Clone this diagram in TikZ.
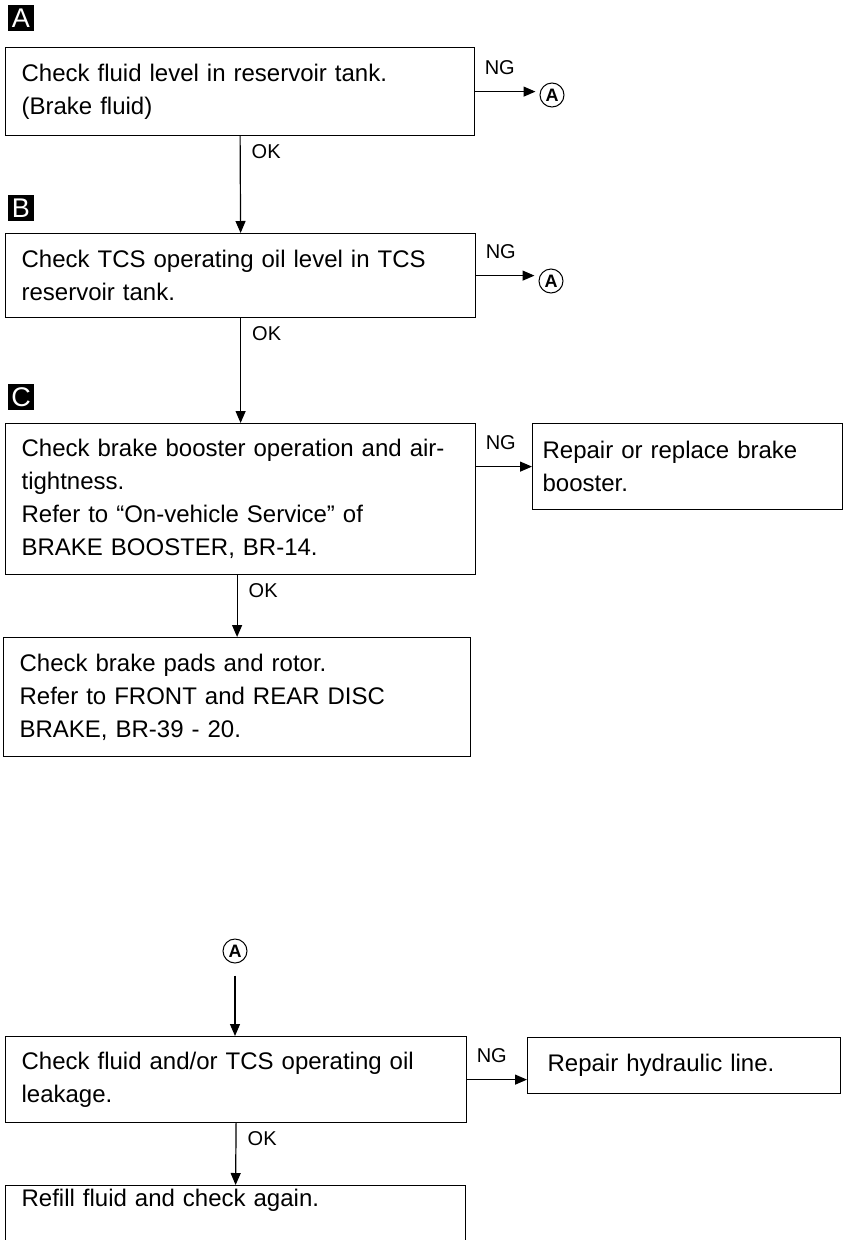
\documentclass[tikz,border=0pt]{standalone}
\usepackage{fontspec}
\setmainfont{Liberation Sans}
\usetikzlibrary{arrows.meta}

\begin{document}
\begin{tikzpicture}[x=1pt, y=-1pt,
  checkbox/.style  = {draw, line width=1.2pt, anchor=north west, inner xsep=16pt,
                      align=left, font=\fontsize{24}{33}\selectfont},
  repairbox/.style = {checkbox, inner xsep=10pt},
  tagbox/.style    = {fill=black, text=white, minimum size=26pt, inner sep=0pt,
                      font=\fontsize{27}{27}\selectfont},
  goto/.style      = {draw, circle, line width=1pt, minimum size=24pt, inner sep=0pt,
                      font=\fontsize{18}{18}\selectfont\bfseries},
  arrow/.style     = {line width=1.2pt, -{Triangle[length=12pt,width=10pt]}},
  cond/.style      = {font=\fontsize{20}{20}\selectfont, inner sep=2pt},
  ng/.style        = {cond, pos=0, anchor=south west, xshift=7pt, yshift=14pt},
  ok/.style        = {cond, pos=0, anchor=north west, xshift=9pt, yshift=-6pt},
]
  \useasboundingbox (0,0) rectangle (846,1240);

  % upper chart: A, B, C
  \node[tagbox] (tagA) at (21,18) {A};
  \node[checkbox, text width=437pt, minimum height=88pt] (fluid) at (5,47)
    {Check fluid level in reservoir tank.\\(Brake fluid)};
  \node[goto] (gotoA1) at (552,95) {A};

  \node[tagbox] (tagB) at (21,208) {B};
  \node[checkbox, text width=438pt, minimum height=84pt] (tcsoil) at (5,233)
    {Check TCS operating oil level in TCS\\reservoir tank.};
  \node[goto] (gotoA2) at (551,281) {A};

  \node[tagbox] (tagC) at (21,397) {C};
  \node[checkbox, text width=438pt, minimum height=151pt] (booster) at (5,423)
    {Check brake booster operation and air-\\tightness.\\Refer to “On-vehicle Service” of\\BRAKE BOOSTER, BR-14.};
  \node[repairbox, text width=290pt, minimum height=86pt] (fixbooster) at (532,423)
    {Repair or replace brake\\booster.};

  \node[checkbox, text width=435pt, minimum height=119pt] (pads) at (3,637)
    {Check brake pads and rotor.\\Refer to FRONT and REAR DISC\\BRAKE, BR-39 - 20.};

  \draw[arrow, shorten >=4pt] (fluid.east) -- node[ng] {NG} (fluid.east -| gotoA1.west);
  \draw[arrow] (fluid.south) -- node[ok] {OK} (tcsoil.north);
  \draw[arrow, shorten >=4pt] (tcsoil.east) -- node[ng] {NG} (tcsoil.east -| gotoA2.west);
  \draw[arrow] (tcsoil.south) -- node[ok] {OK} (booster.north);
  \draw[arrow] (booster.east |- fixbooster.west) -- node[ng] {NG} (fixbooster.west);
  \draw[arrow] (pads.north |- booster.south) -- node[ok] {OK} (pads.north);

  % lower chart: from A
  \node[goto] (gotoA3) at (235,951) {A};
  \node[checkbox, text width=429pt, minimum height=86pt] (leak) at (5,1036)
    {Check fluid and/or TCS operating oil\\leakage.};
  \node[checkbox, inner xsep=20pt, text width=273pt, minimum height=56pt] (fixline) at (527,1037)
    {Repair hydraulic line.};
  \node[checkbox, text width=428pt, text depth=60pt] (refill) at (5,1185)
    {Refill fluid and check again.};

  \draw[arrow, shorten <=12pt] (gotoA3) -- (leak.north -| gotoA3);
  \draw[arrow] (leak.east) -- node[ng] {NG} (leak.east -| fixline.west);
  \draw[arrow] (leak.south) -- node[ok] {OK} (refill.north);
\end{tikzpicture}
\end{document}
